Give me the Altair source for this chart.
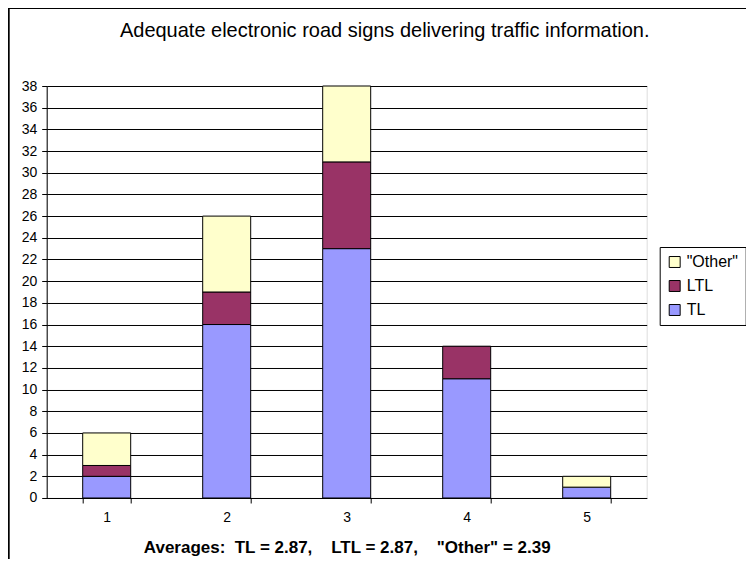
import altair as alt
import pandas as pd

categories = ["1", "2", "3", "4", "5"]
tl_values = [2, 16, 23, 11, 1]
ltl_values = [1, 3, 8, 3, 0]
other_values = [3, 7, 7, 0, 1]
series_names = ['"Other"', "LTL", "TL"]
series_colors = ["#FFFFCC", "#993366", "#9999FF"]
y_ticks = list(range(0, 39, 2))
title_text = "Adequate electronic road signs delivering traffic information."
x_title = "Averages:\u00a0\u00a0TL = 2.87,\u00a0\u00a0\u00a0\u00a0LTL = 2.87,\u00a0\u00a0\u00a0\u00a0\"Other\" = 2.39"

rows = []
for i, c in enumerate(categories):
    rows.append({"cat": c, "series": "TL", "value": tl_values[i], "ord": 0})
    rows.append({"cat": c, "series": "LTL", "value": ltl_values[i], "ord": 1})
    rows.append({"cat": c, "series": '"Other"', "value": other_values[i], "ord": 2})
df = pd.DataFrame(rows)

bars = alt.Chart(df).transform_filter("datum.value > 0").mark_bar(
    stroke="black", strokeWidth=1
).encode(
    x=alt.X("cat:N", sort=categories,
            scale=alt.Scale(paddingInner=0.6, paddingOuter=0.3),
            axis=alt.Axis(title=x_title, labelAngle=0, tickBand="extent",
                          titleFontWeight="bold", titleFontSize=17,
                          titleFont="Liberation Sans", titlePadding=15,
                          labelFont="Liberation Sans", labelFontSize=14,
                          labelPadding=8, tickSize=5, tickColor="black",
                          domainColor="black", labelColor="black",
                          titleColor="black", grid=False)),
    y=alt.Y("value:Q", stack="zero",
            scale=alt.Scale(domain=[0, 38], nice=False),
            axis=alt.Axis(title=None, values=y_ticks, tickSize=5,
                          labelPadding=5, labelFont="Liberation Sans",
                          labelFontSize=14, labelColor="black",
                          tickColor="black", domainColor="black",
                          gridColor="black", gridOpacity=1)),
    color=alt.Color("series:N",
                    scale=alt.Scale(domain=series_names, range=series_colors),
                    legend=alt.Legend(title=None, orient="none",
                                      legendX=613, legendY=161,
                                      symbolType="square", symbolSize=120,
                                      symbolStrokeColor="black",
                                      symbolStrokeWidth=1,
                                      labelFont="Liberation Sans",
                                      labelFontSize=16, labelColor="black",
                                      rowPadding=8, padding=7,
                                      fillColor="white", strokeColor="black",
                                      labelOffset=4)),
    order=alt.Order("ord:Q", sort="ascending"),
)

frame_df = pd.DataFrame({"k": [0]})
left_line = alt.Chart(frame_df).mark_rule(color="black", strokeWidth=2).encode(
    x=alt.value(-38), y=alt.value(-78), y2=alt.value(600),
)
top_line = alt.Chart(frame_df).mark_rule(color="black", strokeWidth=2).encode(
    x=alt.value(-38), x2=alt.value(800), y=alt.value(-78),
)

chart = alt.layer(left_line, top_line, bars).properties(
    width=600, height=412,
    autosize=alt.AutoSizeParams(type="none"),
    padding={"left": 38.7, "top": 78, "right": 99, "bottom": 61},
    title=alt.TitleParams(title_text, font="Liberation Sans", fontSize=20,
                          fontWeight="normal", color="black",
                          anchor="middle", frame="group", dx=38, offset=-34),
).configure_view(stroke="#808080", strokeWidth=1.5).configure(background="white")

chart.save("out.html", embed_options={"renderer": "svg", "actions": False})
